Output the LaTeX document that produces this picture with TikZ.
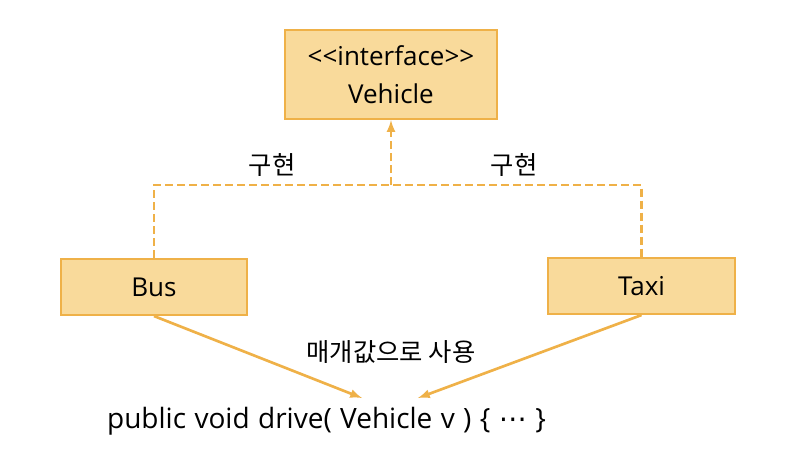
\documentclass[tikz,border=0pt]{standalone}
\usepackage{fontspec}
\setmainfont{Open Sans}
\newfontfamily\krfont{Noto Sans CJK KR}
\newfontfamily\symfont{DejaVu Sans}
\usetikzlibrary{positioning}
\usetikzlibrary{arrows}
\definecolor{boxfill}{HTML}{F9DA9B}
\definecolor{boxline}{HTML}{EFB148}
\begin{document}
\begin{tikzpicture}
    [x=0.75pt,y=-0.75pt,
     every node/.style={font=\fontsize{19.5}{28.5}\selectfont,inner sep=0pt}]

    \tikzstyle{box}  = [draw=boxline,fill=boxfill,line width=1.6pt,align=center]
    \tikzstyle{note} = [draw=none]
    \tikzstyle{kr}   = [note,font=\krfont\fontsize{19}{24}\selectfont]
    \tikzstyle{impl} = [draw=boxline,line width=2pt,dash pattern=on 6pt off 3pt]
    \tikzstyle{use}  = [draw=boxline,line width=2pt]

    \useasboundingbox (0,0) rectangle (790,464);

    \node [box,minimum width=159pt,minimum height=66.75pt] (vehicle) at (391,74.5)
          {<{}<interface>{}>\\Vehicle} ;
    \node [box,minimum width=139.5pt,minimum height=42pt] (bus) at (154,287) {Bus} ;
    \node [box,minimum width=140pt,minimum height=42pt] (taxi) at (641.5,286) {Taxi} ;

    \node [note,font=\fontsize{21}{24}\selectfont] (call) at (326.5,421)
          {\spaceskip=0.3em public void drive( Vehicle v ) \{ {\symfont ⋯} \}} ;

    \coordinate (join) at (391,185) ;
    \coordinate (in1) at (362,398) ;
    \coordinate (in2) at (418,398) ;

    \draw [impl] (bus.north) |- (join) -| (taxi.north) ;
    \draw [impl,-latex] (join) -- (vehicle.south) ;

    \draw [use,-latex] (bus.south) -- (in1) ;
    \draw [use,-latex] (taxi.south) -- (in2) ;

    \node [kr] at (272,165) {구현} ;
    \node [kr] at (514,165) {구현} ;
    \node [kr] at (391,352) {매개값으로 사용} ;
  \end{tikzpicture}
\end{document}
